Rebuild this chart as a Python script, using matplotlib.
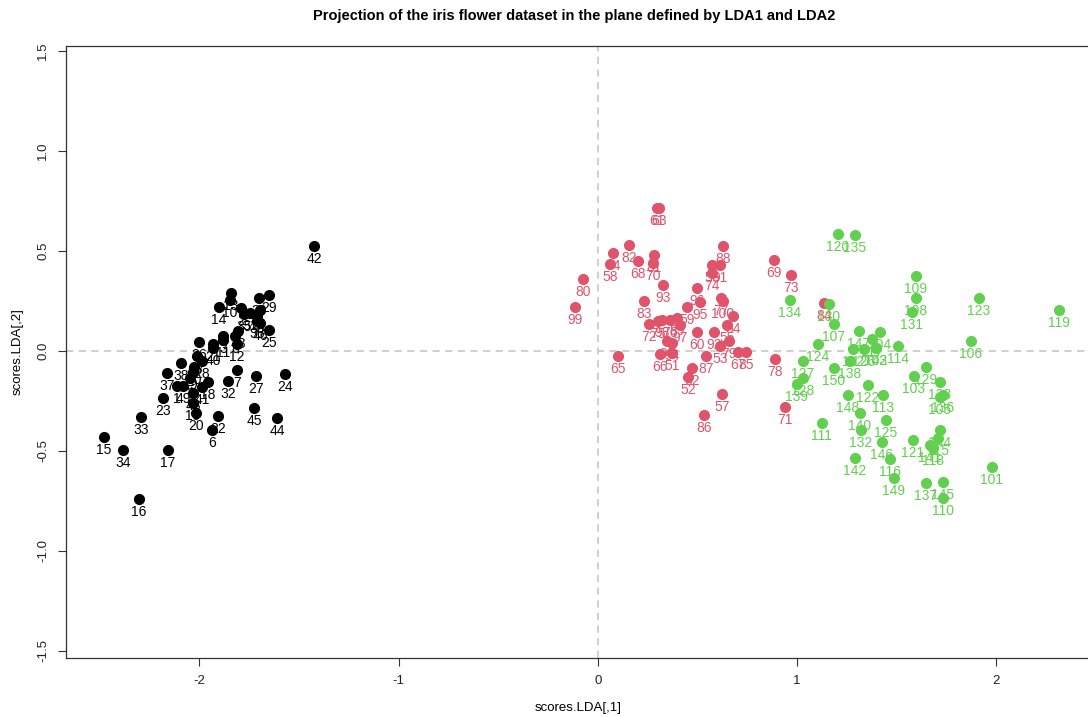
import numpy as np
import matplotlib
matplotlib.use('Agg')
import matplotlib.pyplot as plt

plt.rcParams['font.family'] = ['Liberation Sans', 'DejaVu Sans']

# LDA scores (id, LDA1, LDA2)
setosa_id = [42, 13, 10, 14, 2, 35, 31, 39, 29, 4, 30, 36, 46, 25, 48, 8, 3, 11, 12, 21,
             40, 26, 47, 28, 38, 50, 37, 7, 27, 24, 32, 18, 41, 5, 43, 19, 1, 49, 9, 23,
             20, 22, 6, 45, 44, 33, 15, 34, 17, 16]
setosa_x = [-1.425, -1.841, -1.846, -1.902, -1.791, -1.776, -1.746, -1.701, -1.651, -1.696,
            -1.711, -1.711, -1.696, -1.651, -1.806, -1.821, -1.882, -1.882, -1.811, -1.932,
            -1.932, -2.002, -2.012, -1.987, -2.092, -2.027, -2.163, -1.811, -1.716, -1.570,
            -1.856, -1.957, -1.987, -2.047, -2.032, -2.032, -2.112, -2.082, -2.032, -2.183,
            -2.017, -1.907, -1.937, -1.726, -1.611, -2.293, -2.479, -2.383, -2.158, -2.303]
setosa_y = [0.525, 0.290, 0.255, 0.220, 0.215, 0.185, 0.190, 0.265, 0.280, 0.205,
            0.175, 0.150, 0.140, 0.105, 0.100, 0.075, 0.075, 0.055, 0.035, 0.035,
            0.015, 0.045, -0.025, -0.050, -0.060, -0.080, -0.110, -0.095, -0.125, -0.115,
            -0.150, -0.155, -0.180, -0.135, -0.210, -0.260, -0.175, -0.175, -0.105, -0.235,
            -0.310, -0.325, -0.395, -0.285, -0.335, -0.330, -0.430, -0.495, -0.495, -0.740]

versicolor_id = [99, 80, 58, 64, 82, 68, 81, 70, 61, 63, 93, 83, 72, 75, 98, 76, 89, 97, 59, 96,
                 95, 60, 90, 94, 66, 51, 65, 62, 52, 92, 55, 54, 79, 53, 67, 85, 87, 57, 86, 71,
                 78, 88, 69, 73, 56, 91, 74, 77, 100, 84]
versicolor_x = [-0.115, -0.075, 0.060, 0.075, 0.156, 0.201, 0.281, 0.276, 0.296, 0.306,
                0.326, 0.231, 0.256, 0.301, 0.321, 0.361, 0.396, 0.411, 0.447, 0.497,
                0.512, 0.497, 0.346, 0.371, 0.311, 0.371, 0.100, 0.472, 0.452, 0.582,
                0.647, 0.677, 0.657, 0.612, 0.702, 0.743, 0.542, 0.622, 0.532, 0.938,
                0.888, 0.627, 0.883, 0.968, 0.572, 0.612, 0.572, 0.617, 0.627, 1.134]
versicolor_y = [0.220, 0.360, 0.435, 0.490, 0.530, 0.450, 0.480, 0.440, 0.715, 0.715,
                0.330, 0.250, 0.135, 0.150, 0.155, 0.155, 0.165, 0.130, 0.220, 0.315,
                0.245, 0.095, 0.050, 0.040, -0.015, -0.010, -0.025, -0.085, -0.130, 0.095,
                0.130, 0.175, 0.050, 0.025, -0.005, -0.005, -0.025, -0.215, -0.320, -0.280,
                -0.040, 0.525, 0.455, 0.380, 0.430, 0.430, 0.390, 0.265, 0.250, 0.240]

virginica_id = [120, 135, 134, 130, 107, 109, 108, 131, 147, 104, 117, 112, 126, 102, 143, 114,
                124, 138, 127, 150, 129, 103, 123, 119, 106, 133, 105, 136, 144, 115, 141, 118,
                101, 137, 145, 110, 128, 139, 122, 148, 113, 140, 111, 125, 132, 146, 121, 142,
                116, 149]
virginica_x = [1.204, 1.290, 0.963, 1.159, 1.184, 1.596, 1.596, 1.576, 1.310, 1.415,
               1.375, 1.279, 1.335, 1.395, 1.395, 1.505, 1.104, 1.264, 1.029, 1.184,
               1.646, 1.586, 1.912, 2.313, 1.872, 1.716, 1.716, 1.731, 1.716, 1.706,
               1.666, 1.681, 1.977, 1.646, 1.731, 1.731, 1.029, 0.998, 1.355, 1.254,
               1.430, 1.315, 1.124, 1.445, 1.320, 1.425, 1.581, 1.290, 1.465, 1.485]
virginica_y = [0.585, 0.580, 0.255, 0.235, 0.135, 0.375, 0.265, 0.195, 0.100, 0.095,
               0.060, 0.010, 0.010, 0.015, 0.015, 0.025, 0.035, -0.050, -0.050, -0.085,
               -0.080, -0.125, 0.265, 0.205, 0.050, -0.155, -0.230, -0.220, -0.395, -0.435,
               -0.470, -0.485, -0.580, -0.660, -0.655, -0.735, -0.135, -0.165, -0.170, -0.220,
               -0.220, -0.310, -0.360, -0.345, -0.395, -0.455, -0.445, -0.535, -0.540, -0.635]

groups = [
    (setosa_id, setosa_x, setosa_y, "black"),
    (versicolor_id, versicolor_x, versicolor_y, "#DF536B"),
    (virginica_id, virginica_x, virginica_y, "#61D04F"),
]

fig = plt.figure(figsize=(10.88, 7.17), dpi=100)
ax = fig.add_axes([66 / 1088, 59 / 717, 1028 / 1088, 612 / 717])

ax.axhline(0, color="#cccccc", ls=(0, (4, 3)), lw=1.3, zorder=1)
ax.axvline(0, color="#cccccc", ls=(0, (4, 3)), lw=1.3, zorder=1)

for ids, xs, ys, col in groups:
    ax.plot(xs, ys, "o", color=col, markersize=7, zorder=2)
    for i, x, y in zip(ids, xs, ys):
        ax.annotate(str(i), (x, y), xytext=(0, -4.5), textcoords="offset points",
                    ha="center", va="top", color=col, fontsize=10, zorder=3)

ax.set_xlim(-2.67, 2.49)
ax.set_ylim(-1.535, 1.525)
ax.set_xticks([-2, -1, 0, 1, 2])
ax.set_yticks([-1.5, -1.0, -0.5, 0.0, 0.5, 1.0, 1.5])
ax.set_xticklabels(["-2", "-1", "0", "1", "2"])
ax.set_yticklabels(["-1.5", "-1.0", "-0.5", "0.0", "0.5", "1.0", "1.5"], rotation=90, va="center")
ax.tick_params(direction="out", length=6, width=0.8, color="#333333", labelsize=9.5,
               labelcolor="#222222", pad=6)
for s in ax.spines.values():
    s.set_color("#333333")
    s.set_linewidth(0.9)

fig.text(574 / 1088, 1 - 16 / 717, "Projection of the iris flower dataset in the plane defined by LDA1 and LDA2",
         ha="center", va="center", fontsize=10.5, fontweight="bold")
fig.text(578 / 1088, 1 - 708 / 717, "scores.LDA[,1]", ha="center", va="center", fontsize=9.5)
fig.text(18 / 1088, 1 - 352 / 717, "scores.LDA[,2]", ha="center", va="center", fontsize=9.5,
         rotation=90)

fig.savefig("out.png", dpi=100)
